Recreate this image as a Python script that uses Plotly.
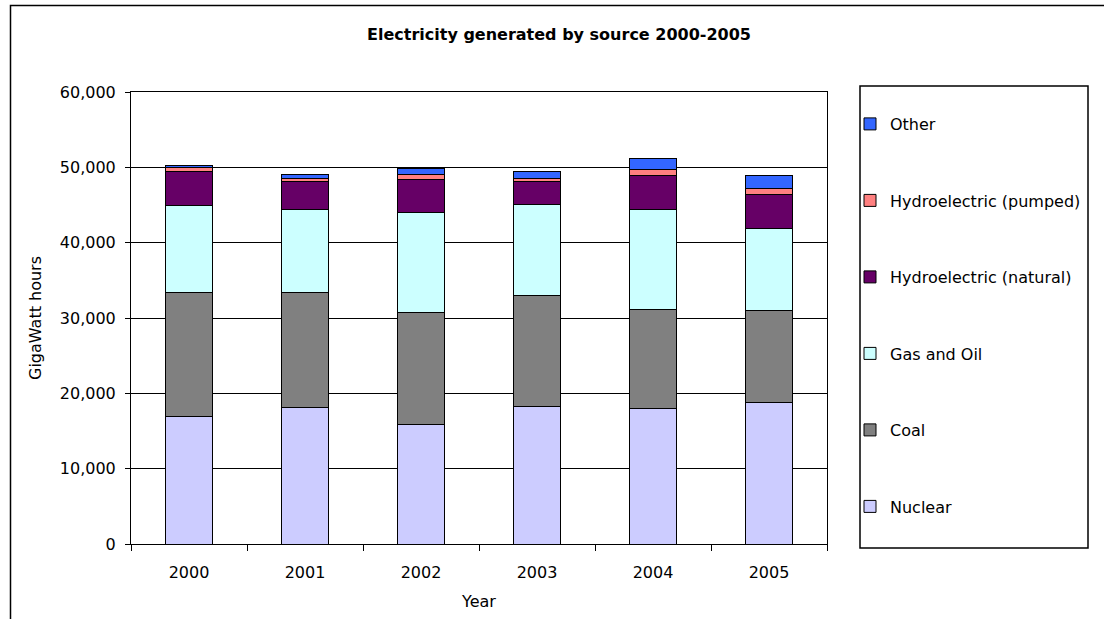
import plotly.graph_objects as go

years = ["2000", "2001", "2002", "2003", "2004", "2005"]

# Generation per source, GWh (stacked bottom to top)
nuclear = [16960, 18100, 15800, 18280, 18050, 18760]
coal = [16470, 15320, 14870, 14730, 13100, 12170]
gas_oil = [11440, 10920, 13310, 12120, 13280, 10980]
hydro_natural = [4550, 3720, 4340, 2960, 4550, 4550]
hydro_pumped = [620, 440, 710, 450, 760, 670]
other = [260, 580, 750, 970, 1370, 1850]

series = [
    ("Nuclear", nuclear, "#CCCCFF"),
    ("Coal", coal, "#808080"),
    ("Gas and Oil", gas_oil, "#CCFFFF"),
    ("Hydroelectric (natural)", hydro_natural, "#660066"),
    ("Hydroelectric (pumped)", hydro_pumped, "#FF8080"),
    ("Other", other, "#3366FF"),
]

W, H = 1104, 619
PL, PR, PT, PB = 131, 827, 92, 544  # plot area in pixels

FONT = "DejaVu Sans, Liberation Sans, Arial, sans-serif"

fig = go.Figure()
n = len(series)
for i, (name, vals, color) in enumerate(series):
    fig.add_trace(go.Bar(
        x=years, y=vals, name=name, legendgroup=str(i),
        legendrank=n - i,  # top of the stack listed first
        marker=dict(color=color, line=dict(color="#000000", width=1)),
    ))


def px_x(px):
    return (px - PL) / (PR - PL)


def px_y(py):
    return (PB - py) / (PB - PT)


shapes = [
    # outer chart frame (left and top edges)
    dict(type="path", xref="paper", yref="paper",
         path=f"M {px_x(10.5)} {px_y(625)} L {px_x(10.5)} {px_y(5.5)} L {px_x(1110)} {px_y(5.5)}",
         line=dict(color="#000000", width=1.5)),
    # legend frame
    dict(type="rect", xref="paper", yref="paper",
         x0=px_x(860), x1=px_x(1088), y0=px_y(548), y1=px_y(86),
         line=dict(color="#000000", width=1.5), fillcolor="rgba(0,0,0,0)"),
]

fig.update_layout(
    width=W, height=H,
    margin=dict(l=PL, r=W - PR, t=PT, b=H - PB, autoexpand=False),
    paper_bgcolor="#FFFFFF", plot_bgcolor="#FFFFFF",
    barmode="stack", bargap=0.6,
    font=dict(family=FONT, size=16, color="#000000"),
    title=dict(text="<b>Electricity generated by source 2000-2005</b>",
               font=dict(family=FONT, size=16, color="#000000"),
               xref="container", yref="container", x=559 / W, y=1 - 34 / H,
               xanchor="center", yanchor="middle"),
    xaxis=dict(
        title=dict(text="Year", font=dict(size=16), standoff=14),
        showline=True, linecolor="#000000", linewidth=1, mirror=True,
        ticks="outside", ticklen=6, tickcolor="#000000", tickson="boundaries",
        showgrid=False, tickfont=dict(size=16), ticklabelstandoff=14,
    ),
    yaxis=dict(
        title=dict(text="GigaWatt hours", font=dict(size=16), standoff=14),
        range=[0, 60000], dtick=10000, tickformat=",d",
        showline=True, linecolor="#000000", linewidth=1, mirror=True,
        ticks="outside", ticklen=5, tickcolor="#000000",
        showgrid=True, gridcolor="#000000", gridwidth=1,
        zeroline=False, tickfont=dict(size=16), ticklabelstandoff=6,
    ),
    legend=dict(
        traceorder="grouped", tracegroupgap=52.7,
        x=px_x(850), xanchor="left", y=px_y(107), yanchor="top",
        bgcolor="rgba(0,0,0,0)", borderwidth=0,
        font=dict(family=FONT, size=16, color="#000000"),
        itemwidth=30,
    ),
    shapes=shapes,
)

fig.write_html("out.html")
